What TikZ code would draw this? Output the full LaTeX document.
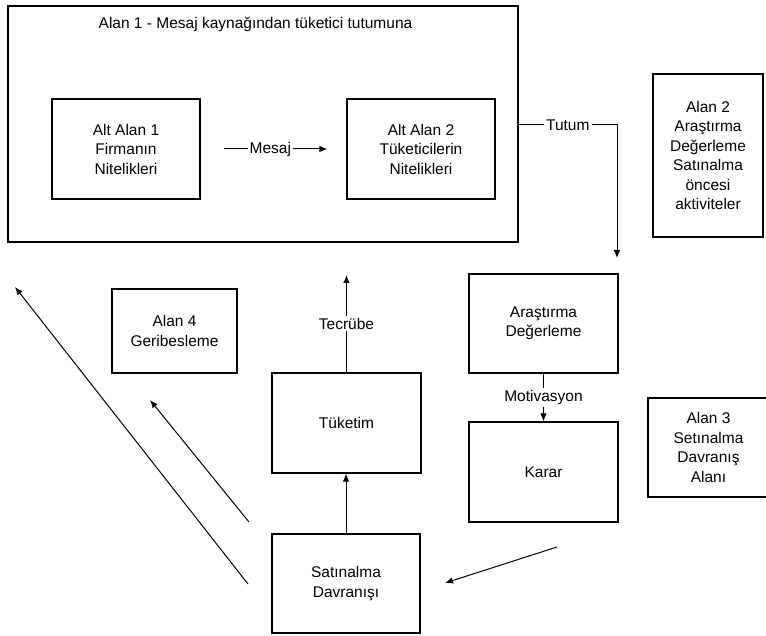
\documentclass[tikz,border=0pt]{standalone}
\usepackage{fontspec}
\setmainfont{Liberation Sans}
\usetikzlibrary{arrows.meta}
\begin{document}
\begin{tikzpicture}[x=1pt,y=-1pt,
  every node/.style={font=\fontsize{15.5}{19.5}\selectfont},
  box/.style={draw, line width=1.3pt, inner sep=0pt, align=center},
  arr/.style={line width=1pt, -{Latex[length=8pt,width=6.5pt]}},
  lbl/.style={fill=white, inner sep=2pt}]
\useasboundingbox (0,0) rectangle (766,636);

% Alan 1: message source to consumer attitude
\node[box, minimum width=510pt, minimum height=236pt] (alan1) at (263,124) {};
\node[anchor=base] (title) at (255.5,29) {Alan 1 - Mesaj kaynağından tüketici tutumuna};
\node[box, minimum width=148pt, minimum height=100pt] (alt1) at (126,149) {Alt Alan 1\\Firmanın\\Nitelikleri};
\node[box, minimum width=148pt, minimum height=100pt] (alt2) at (421,149) {Alt Alan 2\\Tüketicilerin\\Nitelikleri};

% Alan 2 and its content
\node[box, minimum width=110pt, minimum height=163pt] (alan2) at (708,155.5) {Alan 2\\Araştırma\\Değerleme\\Satınalma\\öncesi\\aktiviteler};
\node[box, minimum width=149pt, minimum height=99pt] (arastirma) at (543.5,323.5) {Araştırma\\Değerleme};

% Alan 3 (runs past the right edge of the page)
\node[box, minimum width=149pt, minimum height=100pt] (karar) at (543.5,472) {Karar};
\node[box, minimum width=121pt, minimum height=99pt] (alan3) at (708.5,447.5) {Alan 3\\Setınalma\\Davranış\\Alanı};

% Alan 4 and consumption
\node[box, minimum width=125pt, minimum height=84pt] (alan4) at (174.5,331) {Alan 4\\Geribesleme};
\node[box, minimum width=149pt, minimum height=100pt] (tuketim) at (346.5,423) {Tüketim};
\node[box, minimum width=148pt, minimum height=99pt] (satin) at (346,583.5) {Satınalma\\Davranışı};

% free ends of connectors
\coordinate (ty) at (0,125);
\coordinate (tdrop) at (617,258);
\coordinate (tec) at (347,275);
\coordinate (k1) at (557,547);
\coordinate (s1) at (445,583);
\coordinate (f1s) at (248,584);
\coordinate (f1e) at (15,287);
\coordinate (f2s) at (249,522);
\coordinate (f2e) at (150,400);

% connectors
\draw[arr] ([xshift=23pt]alt1.east) -- node[lbl, pos=0.45]{Mesaj} ([xshift=-19pt]alt2.west);
\draw[arr] (alan1.east |- ty) -- node[lbl]{Tutum} (tdrop |- ty) -- (tdrop);
\draw[arr] (arastirma.south) -- node[lbl]{Motivasyon} (karar.north);
\draw[arr] (k1) -- (s1);
\draw[arr] (satin.north) -- (satin.north |- tuketim.south);
\draw[arr] (tuketim.north) -- node[lbl]{Tecrübe} (tuketim.north |- tec);
\draw[arr] (f1s) -- (f1e);
\draw[arr] (f2s) -- (f2e);
\end{tikzpicture}
\end{document}
